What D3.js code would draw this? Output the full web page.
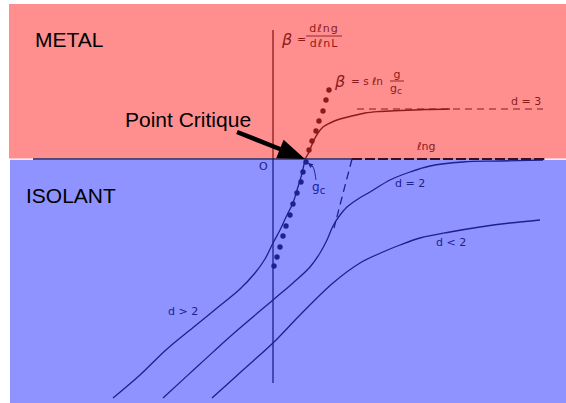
<!DOCTYPE html>
<html>
<head>
<meta charset="utf-8">
<script src="https://cdn.jsdelivr.net/npm/d3@7"></script>
<style>
  html, body { margin: 0; padding: 0; background: #fff; }
  svg { display: block; }
</style>
</head>
<body>
<svg id="chart"></svg>
<script>
const W = 566, H = 403;

// Data, in (ln g, beta) units
const metalRegion = [[-6.6, 0], [7.325, 3.875]];
const isolantRegion = [[-6.6, -0.02], [7.325, -6.1]];

const axisBeta = [[0, 3.225], [0, -5.6]];
const axisLnG = [[-6.0, 0], [1.975, 0]];
const lnGDashed = [[1.975, 0], [6.8, 0]];

const curveD3 = [[0.8, 0], [0.875, 0.125], [0.95, 0.3], [1.025, 0.475], [1.125, 0.65], [1.25, 0.8],
  [1.425, 0.9], [1.675, 1.0], [1.925, 1.0625], [2.3, 1.15], [2.675, 1.1875], [3.175, 1.2125],
  [3.8, 1.2375], [4.425, 1.25]];
const asymptoteD3 = [[2.1, 1.25], [6.75, 1.25]];

const scalingDots = [[1.4, 1.725], [1.325, 1.475], [1.25, 1.2], [1.15, 0.95], [1.075, 0.7],
  [0.975, 0.45], [0.9, 0.225], [0.825, -0.075], [0.75, -0.325], [0.7, -0.575], [0.6, -0.85],
  [0.5, -1.125], [0.425, -1.4], [0.325, -1.675], [0.25, -1.925], [0.175, -2.2], [0.1, -2.45],
  [0.025, -2.675]];

const curveDGt2 = [[-4.0, -5.975], [-3.325, -5.4], [-2.65, -4.75], [-1.95, -4.175], [-1.4, -3.725],
  [-0.825, -3.25], [-0.45, -2.85], [-0.2, -2.5], [0, -2.1], [0.175, -1.775], [0.35, -1.4],
  [0.5, -1.1], [0.6, -0.775], [0.7, -0.45], [0.8, -0.025]];

const curveDEq2 = [[-2.75, -5.975], [-1.825, -5.125], [-1.0, -4.375], [0, -3.525], [0.5, -3.1],
  [0.925, -2.7], [1.175, -2.35], [1.35, -2.025], [1.5, -1.675], [1.675, -1.4], [1.85, -1.2],
  [2.125, -1.0], [2.425, -0.825], [2.925, -0.525], [3.425, -0.325], [3.925, -0.175],
  [4.75, -0.075], [5.675, -0.05], [6.75, -0.025]];
const asymptoteDEq2 = [[1.975, 0], [1.525, -1.725]];

const curveDLt2 = [[-1.525, -5.975], [-0.75, -5.275], [0.025, -4.575], [0.675, -3.9], [1.5, -3.1],
  [2.175, -2.6], [2.75, -2.325], [3.175, -2.15], [3.675, -1.975], [4.425, -1.825],
  [5.175, -1.7], [5.925, -1.6], [6.675, -1.525]];

const criticalArrow = [[-0.9, 0.675], [0.8, 0]];
const gcArrow = [[1.075, -0.525], [1.0, -0.2], [0.875, -0.1]];

const regionLabels = [
  { text: "METAL", x: -5.95, y: 2.8 },
  { text: "ISOLANT", x: -6.175, y: -1.1 },
  { text: "Point Critique", x: -3.7, y: 0.8 }
];
const curveLabels = [
  { text: "d = 3", x: 5.95, y: 1.35, side: "top" },
  { text: "\u2113ng", x: 3.6, y: 0.225, side: "top" },
  { text: "d = 2", x: 3.05, y: -0.7, side: "bot" },
  { text: "d < 2", x: 4.075, y: -2.175, side: "bot" },
  { text: "d > 2", x: -2.625, y: -3.9, side: "bot" },
  { text: "O", x: -0.35, y: -0.275, side: "bot" }
];

const red = "#8a1b1b", blue = "#1d2090";

const x = d3.scaleLinear().domain([-6.825, 7.325]).range([0, W]);
const y = d3.scaleLinear().domain([3.975, -6.1]).range([0, H]);

const svg = d3.select("#chart").attr("width", W).attr("height", H)
  .style("font-family", "'DejaVu Sans', sans-serif");

// Background regions
svg.append("rect")
  .attr("x", x(metalRegion[0][0])).attr("y", y(metalRegion[1][1]))
  .attr("width", x(metalRegion[1][0]) - x(metalRegion[0][0]))
  .attr("height", y(metalRegion[0][1]) - y(metalRegion[1][1]) - 0.5)
  .attr("fill", "#ff8f8f");
svg.append("rect")
  .attr("x", x(isolantRegion[0][0]) + 1).attr("y", y(isolantRegion[0][1]))
  .attr("width", x(isolantRegion[1][0]) - x(isolantRegion[0][0]))
  .attr("height", y(isolantRegion[1][1]) - y(isolantRegion[0][1]))
  .attr("fill", "#8f93ff");

// Clips so ink is red above beta=0 and blue below
const defs = svg.append("defs");
defs.append("clipPath").attr("id", "clipTop").append("rect")
  .attr("x", 0).attr("y", 0).attr("width", W).attr("height", y(0) - 0.3);
defs.append("clipPath").attr("id", "clipBot").append("rect")
  .attr("x", 0).attr("y", y(0) - 0.3).attr("width", W).attr("height", H);

const line = d3.line().x(d => x(d[0])).y(d => y(d[1]));
const smooth = d3.line().curve(d3.curveCatmullRom.alpha(0.5)).x(d => x(d[0])).y(d => y(d[1]));

function drawInk(g, color) {
  g.append("path").attr("d", line(axisBeta)).attr("stroke", color).attr("stroke-width", 1.3).attr("fill", "none");
  g.append("path").attr("d", smooth(curveD3)).attr("stroke", color).attr("stroke-width", 1.4).attr("fill", "none");
  g.append("path").attr("d", line(asymptoteD3)).attr("stroke", color).attr("stroke-width", 1.2)
    .attr("stroke-dasharray", "7,5").attr("fill", "none");
  [curveDGt2, curveDEq2, curveDLt2].forEach(c => {
    g.append("path").attr("d", smooth(c)).attr("stroke", color).attr("stroke-width", 1.3).attr("fill", "none");
  });
  g.append("path").attr("d", line(asymptoteDEq2)).attr("stroke", color).attr("stroke-width", 1.3)
    .attr("stroke-dasharray", "8,5").attr("fill", "none");
  g.selectAll(".dot").data(scalingDots).enter().append("circle")
    .attr("cx", d => x(d[0])).attr("cy", d => y(d[1])).attr("r", 2.7).attr("fill", color);
}

drawInk(svg.append("g").attr("clip-path", "url(#clipTop)"), red);
drawInk(svg.append("g").attr("clip-path", "url(#clipBot)"), blue);

// Horizontal axis (beta = 0 line) and the dashed ln g asymptote
svg.append("path").attr("d", line(axisLnG)).attr("stroke", "#1a1a5a").attr("stroke-width", 1.6).attr("fill", "none");
svg.append("path").attr("d", line(lnGDashed)).attr("stroke", "#4a2a60").attr("stroke-width", 0.8).attr("fill", "none");
svg.append("path").attr("d", line(lnGDashed)).attr("stroke", "#3a1020").attr("stroke-width", 1.8)
  .attr("stroke-dasharray", "10,3").attr("fill", "none");

// gc small arrow
svg.append("path").attr("d", smooth(gcArrow)).attr("stroke", blue).attr("stroke-width", 1).attr("fill", "none");
{
  const p = gcArrow[gcArrow.length - 1], q = gcArrow[gcArrow.length - 2];
  const tx = x(p[0]), ty = y(p[1]);
  const ang = Math.atan2(ty - y(q[1]), tx - x(q[0]));
  const L = 5, Wd = 2.5;
  const pts = [[tx, ty],
    [tx - L * Math.cos(ang) + Wd * Math.sin(ang), ty - L * Math.sin(ang) - Wd * Math.cos(ang)],
    [tx - L * Math.cos(ang) - Wd * Math.sin(ang), ty - L * Math.sin(ang) + Wd * Math.cos(ang)]];
  svg.append("polygon").attr("points", pts.map(d => d.join(",")).join(" ")).attr("fill", blue);
}

// Critical point arrow
{
  const [a, b] = criticalArrow;
  const x0 = x(a[0]), y0 = y(a[1]), x1 = x(b[0]), y1 = y(b[1]);
  const ang = Math.atan2(y1 - y0, x1 - x0);
  const L = 27, Wd = 10;
  const bx = x1 - L * Math.cos(ang), by = y1 - L * Math.sin(ang);
  svg.append("line").attr("x1", x0).attr("y1", y0).attr("x2", bx + 2 * Math.cos(ang)).attr("y2", by + 2 * Math.sin(ang))
    .attr("stroke", "#000").attr("stroke-width", 4.5);
  const pts = [[x1, y1],
    [bx + Wd * Math.sin(ang), by - Wd * Math.cos(ang)],
    [bx - Wd * Math.sin(ang), by + Wd * Math.cos(ang)]];
  svg.append("polygon").attr("points", pts.map(d => d.join(",")).join(" ")).attr("fill", "#000");
}

// Region labels
svg.selectAll(".region").data(regionLabels).enter().append("text")
  .attr("x", d => x(d.x)).attr("y", d => y(d.y))
  .attr("font-family", "'Liberation Sans', Arial, sans-serif")
  .attr("font-size", 21).attr("fill", "#000")
  .text(d => d.text);

// Curve labels
svg.selectAll(".clabel").data(curveLabels).enter().append("text")
  .attr("x", d => x(d.x)).attr("y", d => y(d.y))
  .attr("font-size", 11).attr("fill", d => d.side === "top" ? red : blue)
  .text(d => d.text);

// gc label
const gcText = svg.append("text").attr("x", x(0.975)).attr("y", y(-0.8)).attr("font-size", 12).attr("fill", blue);
gcText.append("tspan").text("g");
gcText.append("tspan").attr("dy", 3).attr("font-size", 10).text("c");

// Formula: beta = d ln g / d ln L
function fraction(cx, num, den, ybar, w, size) {
  svg.append("text").attr("x", x(cx)).attr("y", y(ybar) - 4).attr("text-anchor", "middle")
    .attr("font-size", size).attr("fill", red).attr("letter-spacing", 1).text(num);
  svg.append("line").attr("x1", x(cx) - w / 2).attr("x2", x(cx) + w / 2)
    .attr("y1", y(ybar)).attr("y2", y(ybar)).attr("stroke", red).attr("stroke-width", 0.9);
  return svg.append("text").attr("x", x(cx)).attr("y", y(ybar) + 11).attr("text-anchor", "middle")
    .attr("font-size", size).attr("fill", red).attr("letter-spacing", 1).text(den);
}
svg.append("text").attr("x", x(0.225)).attr("y", y(2.85)).attr("font-size", 16)
  .attr("font-style", "italic").attr("fill", red).text("\u03b2");
svg.append("text").attr("x", x(0.6)).attr("y", y(2.9)).attr("font-size", 11).attr("fill", red).text("=");
fraction(1.275, "d\u2113ng", "d\u2113nL", 3.075, 36, 11);

// Formula: beta = s ln g/gc
svg.append("text").attr("x", x(1.55)).attr("y", y(1.8)).attr("font-size", 16)
  .attr("font-style", "italic").attr("fill", red).text("\u03b2");
svg.append("text").attr("x", x(1.95)).attr("y", y(1.85)).attr("font-size", 10.5).attr("fill", red)
  .text("= s \u2113n");
svg.append("text").attr("x", x(3.1)).attr("y", y(2.02)).attr("text-anchor", "middle")
  .attr("font-size", 11).attr("fill", red).text("g");
svg.append("line").attr("x1", x(2.925)).attr("x2", x(3.275)).attr("y1", y(1.95)).attr("y2", y(1.95))
  .attr("stroke", red).attr("stroke-width", 0.9);
const gcf = svg.append("text").attr("x", x(2.925)).attr("y", y(1.68)).attr("font-size", 11).attr("fill", red);
gcf.append("tspan").text("g");
gcf.append("tspan").attr("dy", 2).attr("font-size", 9).text("c");
</script>
</body>
</html>
